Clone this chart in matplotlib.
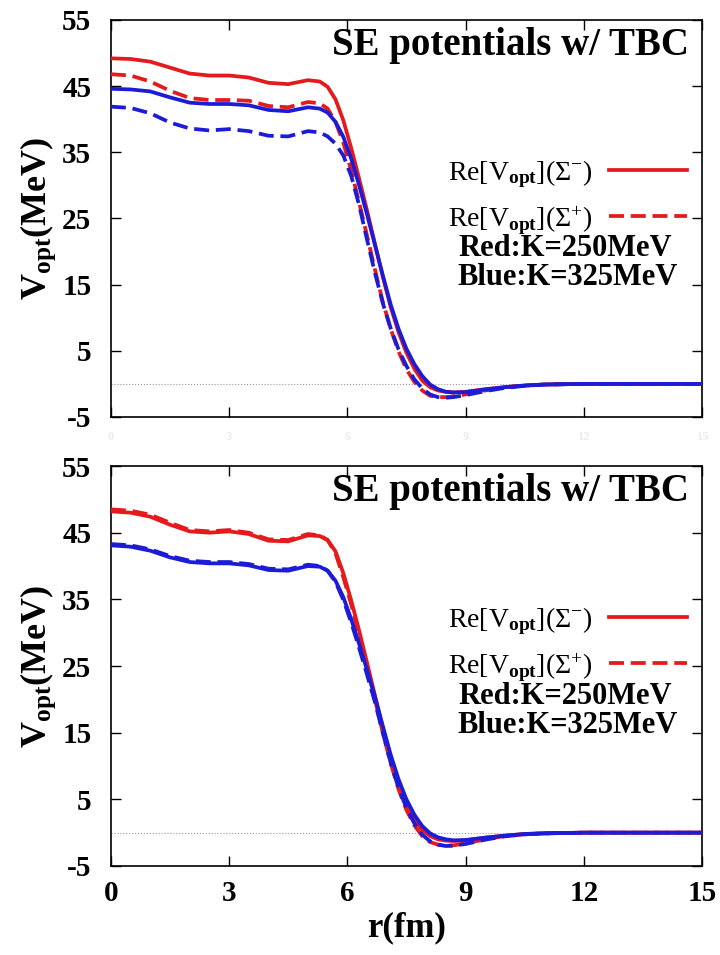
import matplotlib
matplotlib.use("Agg")
from matplotlib import pyplot as plt

plt.rcParams['font.family'] = ['Liberation Serif', 'DejaVu Serif']
plt.rcParams['mathtext.fontset'] = 'custom'
plt.rcParams['mathtext.rm'] = 'Liberation Serif'
plt.rcParams['mathtext.it'] = 'Liberation Serif:italic'
plt.rcParams['mathtext.bf'] = 'Liberation Serif:bold'
plt.rcParams['axes.unicode_minus'] = False

# radius grid (fm)
r = [0, 0.5, 1, 1.5, 2, 2.5, 3, 3.5, 4, 4.5, 5, 5.3, 5.5, 5.7, 5.9, 6.1, 6.3, 6.5, 6.7, 6.9,
     7.1, 7.3, 7.5, 7.7, 7.9, 8.1, 8.3, 8.5, 8.7, 9.0, 9.5, 10, 10.5, 11, 12, 13, 14, 15]

# top panel
top_red_minus = [49.2, 49.1, 48.7, 47.8, 46.9, 46.6, 46.6, 46.3, 45.5, 45.3, 45.9, 45.7, 44.9, 43.0,
                 39.8, 35.6, 31.0, 26.2, 21.2, 16.2, 11.6, 7.8, 4.7, 2.3, 0.5, -0.5, -1.0, -1.2,
                 -1.3, -1.2, -0.8, -0.5, -0.25, -0.1, 0, 0, 0, 0]
top_red_plus = [46.8, 46.6, 45.7, 44.3, 43.2, 42.9, 42.9, 42.8, 42.0, 41.8, 42.6, 42.4, 41.6, 39.6,
                36.4, 32.2, 27.4, 22.4, 17.3, 12.4, 8.3, 4.9, 2.2, 0.3, -1.0, -1.8, -2.0, -2.0,
                -1.9, -1.6, -1.0, -0.5, -0.25, -0.1, 0, 0, 0, 0]
top_blue_minus = [44.6, 44.5, 44.2, 43.3, 42.5, 42.3, 42.3, 42.1, 41.4, 41.2, 41.8, 41.6, 41.0, 39.6,
                  37.3, 34.0, 30.0, 25.6, 21.0, 16.4, 12.0, 8.3, 5.3, 3.0, 1.2, -0.1, -0.8, -1.2,
                  -1.3, -1.25, -0.85, -0.5, -0.25, -0.1, 0, 0, 0, 0]
top_blue_plus = [41.9, 41.7, 40.9, 39.5, 38.6, 38.3, 38.5, 38.2, 37.5, 37.4, 38.2, 38.0, 37.4, 36.3,
                 34.5, 31.4, 27.0, 21.8, 16.8, 12.2, 8.4, 5.2, 2.7, 0.7, -0.7, -1.6, -2.0, -2.1,
                 -2.0, -1.7, -1.1, -0.6, -0.3, -0.1, 0, 0, 0, 0]

# bottom panel
bot_red_minus = [48.2, 48.0, 47.4, 46.2, 45.2, 45.0, 45.2, 44.8, 43.8, 43.7, 44.6, 44.5, 43.9, 42.2,
                 38.9, 34.8, 30.3, 25.5, 20.6, 15.7, 11.1, 7.3, 4.3, 2.0, 0.4, -0.5, -1.0, -1.2,
                 -1.25, -1.15, -0.75, -0.45, -0.2, -0.1, 0, 0, 0, 0]
bot_red_plus = [48.5, 48.3, 47.7, 46.5, 45.4, 45.2, 45.4, 45.0, 44.0, 43.9, 44.8, 44.6, 43.9, 41.9,
                38.3, 34.2, 29.7, 24.9, 20.0, 15.0, 10.4, 6.5, 3.4, 1.1, -0.5, -1.4, -1.8, -1.95,
                -1.9, -1.6, -1.0, -0.5, -0.25, -0.1, 0, 0, 0, 0]
bot_blue_minus = [43.1, 42.9, 42.3, 41.3, 40.6, 40.4, 40.4, 40.1, 39.4, 39.3, 40.0, 39.9, 39.3, 37.8,
                  35.3, 32.0, 28.3, 24.4, 20.4, 16.0, 11.7, 8.0, 5.0, 2.7, 1.0, -0.1, -0.7, -1.0,
                  -1.15, -1.1, -0.75, -0.45, -0.2, -0.1, 0, 0, 0, 0]
bot_blue_plus = [43.3, 43.1, 42.5, 41.5, 40.8, 40.6, 40.6, 40.3, 39.6, 39.5, 40.2, 40.0, 39.3, 37.6,
                 34.9, 31.5, 27.7, 23.7, 19.6, 15.0, 10.5, 6.7, 3.7, 1.4, -0.3, -1.3, -1.8, -2.0,
                 -1.95, -1.7, -1.05, -0.55, -0.25, -0.1, 0, 0, 0, 0]

xticks = [0, 3, 6, 9, 12, 15]
yticks = [-5, 5, 15, 25, 35, 45, 55]

RED = '#e41a1c'
BLUE = '#1c1cd8'
DASH = (4, 1.8)

fig = plt.figure(figsize=(7.2, 9.55), dpi=100)
ax_top = fig.add_axes([0.154, 0.5634, 0.821, 0.4157])
ax_bot = fig.add_axes([0.154, 0.0932, 0.821, 0.4188])


def panel(ax, rm, rp, bm, bp, show_x):
    ax.axhline(0, color='#9a9a9a', lw=0.8, ls=':', zorder=1)
    ax.plot(r, rm, color=RED, lw=2.7, label=r'Re[V$_{\mathbf{opt}}$]($\Sigma^{-}$)', zorder=3)
    ax.plot(r, rp, color=RED, lw=2.7, dashes=DASH, label=r'Re[V$_{\mathbf{opt}}$]($\Sigma^{+}$)', zorder=3)
    ax.plot(r, bm, color=BLUE, lw=2.7, zorder=4)
    ax.plot(r, bp, color=BLUE, lw=2.7, dashes=DASH, zorder=4)

    ax.set_xlim(0, 15)
    ax.set_ylim(-5, 55)
    ax.set_xticks(xticks)
    ax.set_yticks(yticks)
    ax.tick_params(direction='in', top=True, right=True, length=7, width=1,
                   labelsize=21, pad=14)
    ax.tick_params(axis='x', pad=10)
    for t in ax.get_xticklabels() + ax.get_yticklabels():
        t.set_fontweight('bold')
    if not show_x:
        for t in ax.get_xticklabels():
            t.set_color('#ececec')
            t.set_fontsize(9)
    for s in ax.spines.values():
        s.set_linewidth(1.2)

    ax.set_ylabel(r'V$_{\mathbf{opt}}$(MeV)', fontsize=26, fontweight='bold', labelpad=3)
    ax.text(0.978, 0.982, 'SE potentials w/ TBC', transform=ax.transAxes, ha='right', va='top',
            fontsize=28, fontweight='bold')
    ax.legend(loc='upper right', bbox_to_anchor=(0.975, 0.652), frameon=False,
              markerfirst=False, fontsize=20, handlelength=2.8, handletextpad=0.6,
              borderaxespad=0, borderpad=0, labelspacing=0.5)
    ax.text(0.768, 0.425, 'Red:K=250MeV', transform=ax.transAxes, ha='center', va='center',
            fontsize=22, fontweight='bold')
    ax.text(0.772, 0.352, 'Blue:K=325MeV', transform=ax.transAxes, ha='center', va='center',
            fontsize=22, fontweight='bold')


panel(ax_top, top_red_minus, top_red_plus, top_blue_minus, top_blue_plus, False)
panel(ax_bot, bot_red_minus, bot_red_plus, bot_blue_minus, bot_blue_plus, True)
ax_bot.set_xlabel('r(fm)', fontsize=25, fontweight='bold', labelpad=3)

fig.savefig('out.png', dpi=100)
